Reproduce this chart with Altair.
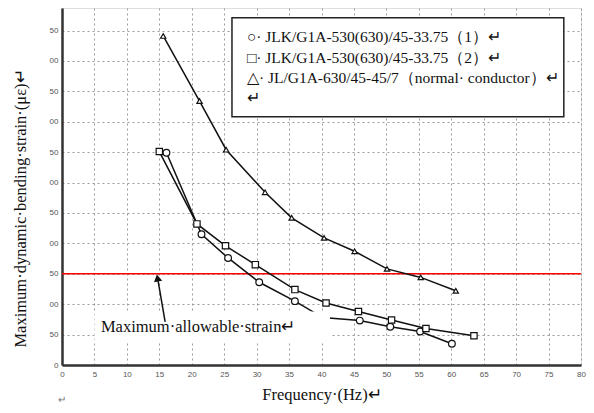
import altair as alt
import pandas as pd

# ---- data ----
freq_c = [16.1, 21.5, 25.6, 30.4, 35.9, 40.2, 45.9, 50.6, 55.2, 60.1]
strain_c = [349, 215, 176, 136, 105, 78, 73, 63, 55, 35]

freq_s = [15.0, 20.8, 25.2, 29.8, 35.9, 40.7, 45.7, 50.8, 56.1, 63.5]
strain_s = [351, 232, 196, 165, 124, 102, 88, 74, 60, 48]

freq_t = [15.6, 21.2, 25.3, 31.3, 35.4, 40.4, 45.1, 50.1, 55.3, 60.7]
strain_t = [541, 434, 354, 284, 242, 209, 187, 158, 144, 122]

allowable = 150

x_ticks = list(range(0, 81, 5))
y_ticks = list(range(0, 551, 50))

legend_lines = [
    "○· JLK/G1A-530(630)/45-33.75（1）↵",
    "□· JLK/G1A-530(630)/45-33.75（2）↵",
    "△· JL/G1A-630/45-45/7（normal· conductor）↵",
    "↵",
]

x_title = "Frequency·(Hz)↵"
y_title = "Maximum·dynamic·bending·strain·(με)↵"
note_text = "Maximum·allowable·strain↵"

# ---- tables ----
df = pd.concat([
    pd.DataFrame({"f": freq_c, "s": strain_c, "series": "c"}),
    pd.DataFrame({"f": freq_s, "s": strain_s, "series": "s"}),
    pd.DataFrame({"f": freq_t, "s": strain_t, "series": "t"}),
])

X = alt.Scale(domain=[0, 80], nice=False, zero=False)
Y = alt.Scale(domain=[0, 587], nice=False, zero=False)
SERIF = "Liberation Serif"

xax = alt.Axis(values=x_ticks, grid=True, gridDash=[2, 3], gridColor="#9a9a9a",
               labelFontSize=8, labelColor="#555", labelFont="Arial", ticks=False,
               labelOverlap=False, labelFlush=False,
               labelPadding=5, domainColor="#333", domainWidth=2.5,
               title=x_title, titleFont=SERIF, titleFontSize=16.5, titleFontWeight="normal",
               titleColor="#111", titlePadding=8)
yax = alt.Axis(values=y_ticks, grid=True, gridDash=[2, 3], gridColor="#9a9a9a",
               labelFontSize=8, labelColor="#555", labelFont="Arial", ticks=False,
               labelOverlap=False, labelFlush=False,
               labelPadding=4, labelExpr="slice(datum.label, -2)",
               domainColor="#333", domainWidth=2.5,
               title=y_title, titleFont=SERIF, titleFontSize=16.5, titleFontWeight="normal",
               titleColor="#111", titleX=-34, titleY=200)


def ex(field):
    return alt.X(field, type="quantitative", scale=X, axis=xax)


def ey(field):
    return alt.Y(field, type="quantitative", scale=Y, axis=yax)


red = alt.Chart(pd.DataFrame({"s": [allowable]})).mark_rule(color="#ff0000", strokeWidth=1.6).encode(
    y=ey("s")
)

lines = alt.Chart(df).mark_line(color="#111", strokeWidth=1.5).encode(
    x=ex("f"), y=ey("s"), detail="series:N",
)


def pts(series, shape, size):
    return alt.Chart(df[df.series == series]).mark_point(
        shape=shape, size=size, filled=True, fill="white", stroke="#111", strokeWidth=1.2, opacity=1
    ).encode(x=ex("f"), y=ey("s"))


p_c = pts("c", "circle", 45)
p_s = pts("s", "square", 40)
p_t = pts("t", "triangle-up", 28)

# note background and text
note_bg = alt.Chart(pd.DataFrame({"x": [5.0], "x2": [41.3], "y": [36], "y2": [88]})).mark_rect(
    fill="white"
).encode(x=ex("x"), x2="x2", y=ey("y"), y2="y2")

note = alt.Chart(pd.DataFrame({"x": [6.0], "y": [62], "t": [note_text]})).mark_text(
    font=SERIF, fontSize=16.5, align="left", baseline="middle", color="#111"
).encode(x=ex("x"), y=ey("y"), text="t:N")

arrow_shaft = alt.Chart(pd.DataFrame({"x": [15.9], "x2": [14.75], "y": [71], "y2": [142]})).mark_rule(
    color="#111", strokeWidth=1.5
).encode(x=ex("x"), x2="x2", y=ey("y"), y2="y2")

arrow_head = alt.Chart(pd.DataFrame({"x": [14.72], "y": [143]})).mark_point(
    shape="triangle-up", size=70, filled=True, color="#111", opacity=1, angle=350
).encode(x=ex("x"), y=ey("y"))

# legend box
leg_box = alt.Chart(pd.DataFrame({"x": [26.2], "x2": [77.35], "y": [408], "y2": [571]})).mark_rect(
    fill="white", stroke="#222", strokeWidth=1.5
).encode(x=ex("x"), x2="x2", y=ey("y"), y2="y2")

leg_df = pd.DataFrame({"x": [28.5] * 4, "y": [539.5, 505, 472, 439], "t": legend_lines})
leg_text = alt.Chart(leg_df).mark_text(
    font=SERIF, fontSize=15.5, align="left", baseline="middle", color="#111"
).encode(x=ex("x"), y=ey("y"), text="t:N")

corner = alt.Chart(pd.DataFrame({"t": ["↵"]})).mark_text(
    fontSize=10, color="#777", align="left", baseline="middle"
).encode(x=alt.value(-4), y=alt.value(392), text="t:N")

chart = alt.layer(
    red, lines, p_c, p_s, p_t, note_bg, note, arrow_shaft, arrow_head, leg_box, leg_text, corner
).properties(
    width=519, height=357,
    autosize=alt.AutoSizeParams(type="none"),
    padding={"left": 54, "top": 0, "right": 5, "bottom": 40},
).configure_view(
    stroke="#444", strokeWidth=2
).configure(background="white")

chart.save("out.html", embed_options={"renderer": "svg", "actions": False})
